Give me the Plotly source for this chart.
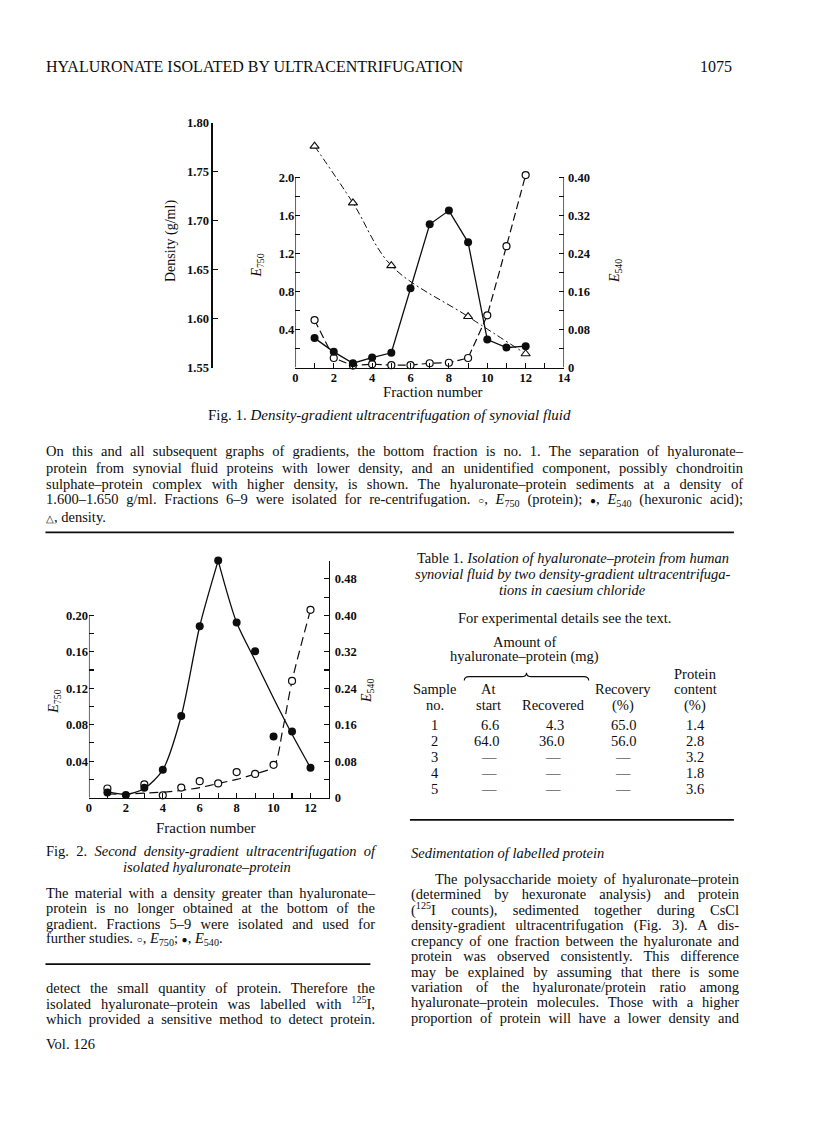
import json
import plotly.graph_objects as go

W, H = 816, 1136

# ---------------- data (read from the page) ----------------
fig1_fraction = [1, 2, 3, 4, 5, 6, 7, 8, 9, 10, 11, 12]
fig1_e750 = [0.50, 0.10, 0.02, 0.035, 0.025, 0.025, 0.045, 0.05, 0.10, 0.55, 1.28, 2.03]
fig1_e540 = [0.062, 0.033, 0.009, 0.021, 0.031, 0.167, 0.302, 0.331, 0.264, 0.059, 0.042, 0.045]
fig1_density_fraction = [1, 3, 5, 9, 12]
fig1_density = [1.776, 1.718, 1.654, 1.602, 1.564]

fig2_e750_fraction = [1, 3, 4, 5, 6, 7, 8, 9, 10, 11, 12]
fig2_e750 = [0.010, 0.0145, 0.0025, 0.011, 0.018, 0.0156, 0.028, 0.026, 0.036, 0.128, 0.206]
fig2_e750_curve_fraction = [1, 2, 3, 4, 5, 6, 7, 8, 9, 10, 10.5, 11, 12]
fig2_e750_curve = [0.004, 0.004, 0.005, 0.006, 0.008, 0.011, 0.0155, 0.020, 0.026, 0.034, 0.075, 0.128, 0.206]
fig2_e540_fraction = [1, 2, 3, 4, 5, 6, 7, 8, 9, 10, 11, 12]
fig2_e540 = [0.011, 0.006, 0.0216, 0.061, 0.179, 0.376, 0.52, 0.384, 0.321, 0.134, 0.145, 0.0655]
fig2_e540_rise_fraction = [1, 2, 3, 4, 5, 6, 7]
fig2_e540_rise = [0.013, 0.007, 0.020, 0.061, 0.179, 0.376, 0.52]
fig2_e540_fall_fraction = [7, 8, 9, 10, 11, 12]
fig2_e540_fall = [0.52, 0.384, 0.301, 0.218, 0.139, 0.0655]

table_sample = ["1", "2", "3", "4", "5"]
table_at_start = ["6.6", "64.0", "—", "—", "—"]
table_recovered = ["4.3", "36.0", "—", "—", "—"]
table_recovery = ["65.0", "56.0", "—", "—", "—"]
table_protein = ["1.4", "2.8", "3.2", "1.8", "3.6"]


def I(s, size=14.5):
    return f'<span style="font-style:italic;font-size:{size}px">{s}</span>'


def SYM(s):
    return f'<span style="font-size:10px">{s}</span>'


def E(sub, size=14.5):
    return I("E", size) + f"<sub>{sub}</sub>"


header_title = "HYALURONATE ISOLATED BY ULTRACENTRIFUGATION"
header_page = "1075"
fig1_caption = "Fig. 1. " + I("Density-gradient ultracentrifugation of synovial fluid", 15)
fig1_legend_lines = [
    "On this and all subsequent graphs of gradients, the bottom fraction is no. 1. The separation of hyaluronate–",
    "protein from synovial fluid proteins with lower density, and an unidentified component, possibly chondroitin",
    "sulphate–protein complex with higher density, is shown. The hyaluronate–protein sediments at a density of",
    "1.600–1.650 g/ml. Fractions 6–9 were isolated for re-centrifugation. " + SYM("○") + ", " + E("750")
    + " (protein); " + SYM("●") + ", " + E("540") + " (hexuronic acid);",
    SYM("△") + ", density.",
]
table_title_lines = [
    "Table 1. " + I("Isolation of hyaluronate–protein from human"),
    I("synovial fluid by two density-gradient ultracentrifuga-"),
    I("tions in caesium chloride"),
]
fig2_caption_lines = [
    "Fig. 2. " + I("Second density-gradient ultracentrifugation of"),
    I("isolated hyaluronate–protein"),
]
fig2_legend_lines = [
    "The material with a density greater than hyaluronate–",
    "protein is no longer obtained at the bottom of the",
    "gradient. Fractions 5–9 were isolated and used for",
    "further studies. " + SYM("○") + ", " + E("750") + "; " + SYM("●") + ", " + E("540") + ".",
]
left_body_lines = [
    "detect the small quantity of protein. Therefore the",
    "isolated hyaluronate–protein was labelled with <sup>125</sup>I,",
    "which provided a sensitive method to detect protein.",
]
right_heading = I("Sedimentation of labelled protein")
right_body_lines = [
    "The polysaccharide moiety of hyaluronate–protein",
    "(determined by hexuronate analysis) and protein",
    "(<sup>125</sup>I counts), sedimented together during CsCl",
    "density-gradient ultracentrifugation (Fig. 3). A dis-",
    "crepancy of one fraction between the hyaluronate and",
    "protein was observed consistently. This difference",
    "may be explained by assuming that there is some",
    "variation of the hyaluronate/protein ratio among",
    "hyaluronate–protein molecules. Those with a higher",
    "proportion of protein will have a lower density and",
]

# ---------------- helpers ----------------
SERIF = "Liberation Serif"
BLACK = "#0d0d0d"
LW = 1.3


def px(x):
    return x / W


def py(y):
    return 1 - y / H


annotations = []
justify = {}


def txt(x, y, s, size=14.5, xanchor="left", angle=0, just=None):
    annotations.append(dict(
        x=px(x), y=py(y), xref="paper", yref="paper", text=s, showarrow=False,
        xanchor=xanchor, yanchor="middle", textangle=angle, borderpad=0,
        align="left" if xanchor == "left" else ("right" if xanchor == "right" else "center"),
        font=dict(family=SERIF, size=size, color=BLACK),
    ))
    if just:
        justify[str(len(annotations) - 1)] = just


fig = go.Figure()

# ---------------- Fig. 1 traces ----------------
fig.add_trace(go.Scatter(
    x=fig1_density_fraction, y=fig1_density, xaxis="x", yaxis="y3", mode="lines+markers",
    line=dict(color=BLACK, width=1.0, dash="7px,3px,2px,3px", shape="spline"),
    marker=dict(symbol="triangle-up", size=8, color="white", line=dict(color=BLACK, width=1.1)),
    cliponaxis=False, hoverinfo="skip"))
fig.add_trace(go.Scatter(
    x=fig1_fraction, y=fig1_e750, xaxis="x", yaxis="y", mode="lines+markers",
    line=dict(color=BLACK, width=1.2, dash="8px,4px"),
    marker=dict(symbol="circle", size=7, color="white", line=dict(color=BLACK, width=1.2)),
    cliponaxis=False, hoverinfo="skip"))
fig.add_trace(go.Scatter(
    x=fig1_fraction, y=fig1_e540, xaxis="x", yaxis="y2", mode="lines+markers",
    line=dict(color=BLACK, width=1.3),
    marker=dict(symbol="circle", size=8, color=BLACK),
    cliponaxis=False, hoverinfo="skip"))

# ---------------- Fig. 2 traces ----------------
fig.add_trace(go.Scatter(
    x=fig2_e750_curve_fraction, y=fig2_e750_curve, xaxis="x2", yaxis="y4", mode="lines",
    line=dict(color=BLACK, width=1.2, dash="9px,5px", shape="spline", smoothing=0.8),
    hoverinfo="skip"))
fig.add_trace(go.Scatter(
    x=fig2_e750_fraction, y=fig2_e750, xaxis="x2", yaxis="y4", mode="markers",
    marker=dict(symbol="circle", size=7, color="white", line=dict(color=BLACK, width=1.2)),
    cliponaxis=False, hoverinfo="skip"))
fig.add_trace(go.Scatter(
    x=fig2_e540_rise_fraction, y=fig2_e540_rise, xaxis="x2", yaxis="y5", mode="lines",
    line=dict(color=BLACK, width=1.3, shape="spline", smoothing=0.8), hoverinfo="skip"))
fig.add_trace(go.Scatter(
    x=fig2_e540_fall_fraction, y=fig2_e540_fall, xaxis="x2", yaxis="y5", mode="lines",
    line=dict(color=BLACK, width=1.3, shape="spline", smoothing=0.8), hoverinfo="skip"))
fig.add_trace(go.Scatter(
    x=fig2_e540_fraction, y=fig2_e540, xaxis="x2", yaxis="y5", mode="markers",
    marker=dict(symbol="circle", size=8, color=BLACK),
    cliponaxis=False, hoverinfo="skip"))

# ---------------- axes ----------------
TICKFONT = dict(family=SERIF, size=12.5, color=BLACK, weight="bold")
base = dict(showline=True, linecolor=BLACK, linewidth=LW, ticks="inside", ticklen=5,
            tickwidth=1.1, tickcolor=BLACK, showgrid=False, zeroline=False,
            tickfont=TICKFONT, tickmode="array", fixedrange=True)


def minor(vals):
    return dict(tickmode="array", tickvals=vals, ticks="inside", ticklen=5,
                tickwidth=1.1, tickcolor=BLACK, showgrid=False)


x1_major = list(range(0, 15, 2))
x1_minor = list(range(1, 15, 2))
y1_major = [0.4, 0.8, 1.2, 1.6, 2.0]
y1_minor = [0.2, 0.6, 1.0, 1.4, 1.8]
y2_major = [0, 0.08, 0.16, 0.24, 0.32, 0.40]
y2_minor = [0.04, 0.12, 0.20, 0.28, 0.36]
y3_major = [1.55, 1.60, 1.65, 1.70, 1.75, 1.80]
x2_major = list(range(0, 13, 2))
x2_minor = list(range(1, 14, 2))
y4_major = [0.04, 0.08, 0.12, 0.16, 0.20]
y4_minor = [0.02, 0.06, 0.10, 0.14, 0.18]
y5_major = [0, 0.08, 0.16, 0.24, 0.32, 0.40, 0.48]
y5_minor = [0.04, 0.12, 0.20, 0.28, 0.36, 0.44, 0.52]


def lab(v, nd):
    return "0" if v == 0 else f"{v:.{nd}f}"


# Fig.1 E axes: domain extends a little above 2.0 so the last point stays visible
F1_TOP, F1_BOT = 165, 365
F1_MAX = 2.0 * (F1_BOT - F1_TOP) / 192.0

fig.update_layout(
    width=W, height=H, margin=dict(l=0, r=0, t=0, b=0), autosize=False,
    paper_bgcolor="white", plot_bgcolor="rgba(0,0,0,0)", showlegend=False,
    xaxis=dict(base, domain=[px(296), px(568)], range=[0, 14], anchor="y",
               tickvals=x1_major, ticktext=[str(v) for v in x1_major], minor=minor(x1_minor),
               ticklabelstandoff=-2),
    yaxis=dict(base, showline=False, domain=[py(F1_BOT), py(F1_TOP)], range=[0, F1_MAX], anchor="x",
               tickvals=y1_major, ticktext=[f"{v:.1f}" for v in y1_major], minor=minor(y1_minor)),
    yaxis2=dict(base, showline=False, overlaying="y", side="right", anchor="x", range=[0, F1_MAX / 5],
                tickvals=y2_major, ticktext=[lab(v, 2) for v in y2_major], minor=minor(y2_minor),
                ticklabelstandoff=3),
    yaxis3=dict(base, domain=[py(365), py(117)], range=[1.55, 1.80001], anchor="free",
                position=px(211), side="left",
                tickvals=y3_major, ticktext=[f"{v:.2f}" for v in y3_major]),
    xaxis2=dict(base, domain=[px(87), px(330)], range=[0, 13], anchor="y4",
                tickvals=x2_major, ticktext=[str(v) for v in x2_major], minor=minor(x2_minor),
                ticklabelstandoff=-2),
    yaxis4=dict(base, showline=False, domain=[py(800.5), py(560.5)], range=[0, 0.26], anchor="x2",
                tickvals=y4_major, ticktext=[f"{v:.2f}" for v in y4_major], minor=minor(y4_minor)),
    yaxis5=dict(base, overlaying="y4", side="right", anchor="x2", range=[0, 0.52001],
                tickvals=y5_major, ticktext=[lab(v, 2) for v in y5_major], minor=minor(y5_minor),
                ticklabelstandoff=2),
)

shapes = []
# axis lines that stop at the top labelled tick
shapes.append(dict(type="line", xref="x", yref="y", x0=0, x1=0, y0=0, y1=2.0,
                   line=dict(color=BLACK, width=LW)))
shapes.append(dict(type="line", xref="x", yref="y2", x0=14, x1=14, y0=0, y1=0.40,
                   line=dict(color=BLACK, width=LW)))
shapes.append(dict(type="line", xref="x2", yref="y4", x0=0, x1=0, y0=0, y1=0.20,
                   line=dict(color=BLACK, width=LW)))
# rules on the page
for (x0, x1, y) in [(43, 740, 532), (43, 372, 969), (412, 740, 823)]:
    shapes.append(dict(type="line", xref="paper", yref="paper", x0=px(x0), x1=px(x1),
                       y0=py(y), y1=py(y), line=dict(color=BLACK, width=1.7)))
# brace over the "amount" columns of the table
bl, bm, br, by = 467, 530, 593, 678
pts = [("M", bl, by + 4), ("Q", bl, by, bl + 5, by), ("L", bm - 5, by), ("Q", bm, by, bm, by - 4),
       ("Q", bm, by, bm + 5, by), ("L", br - 5, by), ("Q", br, by, br, by + 4)]
path = ""
for p in pts:
    cmd, coords = p[0], p[1:]
    path += cmd + " " + " ".join(
        f"{px(coords[k]):.5f},{py(coords[k + 1]):.5f}" for k in range(0, len(coords), 2)) + " "
shapes.append(dict(type="path", xref="paper", yref="paper", path=path.strip(),
                   line=dict(color=BLACK, width=1.1)))
fig.update_layout(shapes=shapes)

# ---------------- text ----------------
txt(43, 60, header_title, size=16)
txt(739, 60, header_page, size=16, xanchor="right")

# Fig. 1 axis titles
txt(170, 237, "Density (g/ml)", size=14, xanchor="center", angle=-90)
txt(258, 262, E("750", 14), size=14, xanchor="center", angle=-90)
txt(620, 267, E("540", 14), size=14, xanchor="center", angle=-90)
txt(435, 390, "Fraction number", size=15, xanchor="center")

# Fig. 1 caption + legend
txt(391, 413, fig1_caption, size=15, xanchor="center")
for i, line in enumerate(fig1_legend_lines):
    last = i == len(fig1_legend_lines) - 1
    txt(43, 450 + 16.5 * i, line, size=14.5, just=None if last else 697)

# Fig. 2 axis titles
txt(52, 703, E("750", 14), size=14, xanchor="center", angle=-90)
txt(369, 692, E("540", 14), size=14, xanchor="center", angle=-90)
txt(206, 831, "Fraction number", size=15, xanchor="center")

# Fig. 2 caption + legend
txt(43, 855, fig2_caption_lines[0], size=14.5, just=329)
txt(207, 871, fig2_caption_lines[1], size=14.5, xanchor="center")
for i, line in enumerate(fig2_legend_lines):
    last = i == len(fig2_legend_lines) - 1
    txt(43, 897 + 15.7 * i, line, size=14.5, just=None if last else 329)
for i, line in enumerate(left_body_lines):
    txt(43, 993 + 15.7 * i, line, size=14.5, just=329)
txt(43, 1050, "Vol. 126", size=14.5)

# Table 1
for i, line in enumerate(table_title_lines):
    txt(577, 558 + 16 * i, line, size=14.5, xanchor="center")
txt(568, 619, "For experimental details see the text.", size=14.5, xanchor="center")
txt(528, 643, "Amount of", size=14.5, xanchor="center")
txt(528, 658, "hyaluronate–protein (mg)", size=14.5, xanchor="center")
col_center = [437, 492, 557, 628, 701]
col_right = [None, 503, 569, 642, 710]
txt(701, 675, "Protein", size=14.5, xanchor="center")
for c, s in zip(col_center, ["Sample", "At", "", "Recovery", "content"]):
    if s:
        txt(c, 691, s, size=14.5, xanchor="center")
for c, s in zip(col_center, ["no.", "start", "Recovered", "(%)", "(%)"]):
    txt(c, 707, s, size=14.5, xanchor="center")
columns = [table_sample, table_at_start, table_recovered, table_recovery, table_protein]
for r in range(len(table_sample)):
    yy = 727 + 16.2 * r
    for k, col in enumerate(columns):
        v = col[r]
        if k == 0 or v == "—" or k == 4:
            txt(col_center[k], yy, v, size=14.5, xanchor="center")
        else:
            txt(col_right[k], yy, v, size=14.5, xanchor="right")

# right column text
txt(412, 857, right_heading, size=14.5)
for i, line in enumerate(right_body_lines):
    x0 = 436 if i == 0 else 412
    txt(x0, 883 + 15.6 * i, line, size=14.5, just=740 - x0)

fig.update_layout(annotations=annotations)

post = """
document.body.style.margin='0';
document.body.style.overflow='hidden';
var J = %s;
document.querySelectorAll('g.annotation').forEach(function(g){
  var i = g.getAttribute('data-index');
  if (!J.hasOwnProperty(i)) return;
  var t = g.querySelector('text.annotation-text');
  if (!t) return;
  var w = t.getComputedTextLength();
  var n = (t.textContent.match(/ /g) || []).length;
  if (n > 0 && w < J[i]) {
    t.setAttribute('word-spacing', ((J[i] - w) / n).toFixed(2));
  }
});
""" % json.dumps(justify)

fig.write_html("out.html", post_script=post, config={"staticPlot": True})
